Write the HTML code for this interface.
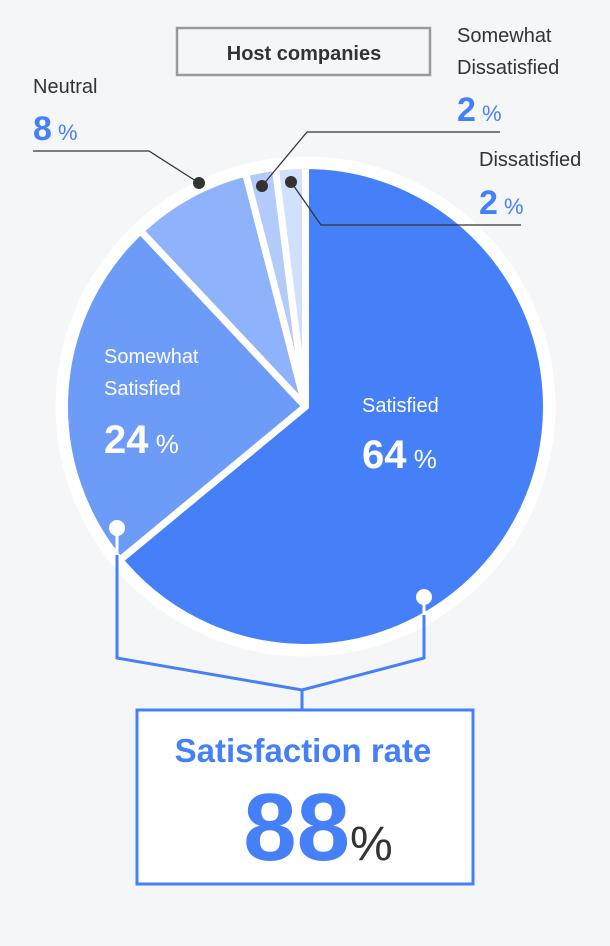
<!DOCTYPE html>
<html><head><meta charset="utf-8">
<style>
body{margin:0;background:#f4f6f8;}
svg{display:block;font-family:"Liberation Sans",sans-serif;}
</style></head>
<body>
<svg id="chart" width="610" height="946" viewBox="0 0 610 946">
<rect x="0" y="0" width="610" height="946" fill="#f4f6f8"/>
<rect x="177" y="28" width="253" height="47" fill="#f4f6f8" stroke="#9a9a9a" stroke-width="2.5"/>
<text x="304" y="60" text-anchor="middle" font-size="20" font-weight="bold" fill="#333">Host companies</text>
<circle cx="305.5" cy="406.5" r="250" fill="#ffffff"/>
<g id="slices"></g>
<g id="leaders" fill="none" stroke="#333" stroke-width="1.3">
<polyline points="33,151 149,151 199,183"/>
<polyline points="500,132 307,132 262,186"/>
<polyline points="291,182 321,225 521,225"/>
</g>
<circle cx="199" cy="183" r="6" fill="#333"/>
<circle cx="262" cy="186" r="6" fill="#333"/>
<circle cx="291" cy="182" r="6" fill="#333"/>
<g font-size="20" fill="#333">
<text x="33" y="93">Neutral</text>
<text x="33" y="140"><tspan font-size="34" font-weight="bold" fill="#4680f8">8</tspan><tspan font-size="22" fill="#4680f8"> %</tspan></text>
<text x="457" y="42">Somewhat</text>
<text x="457" y="74">Dissatisfied</text>
<text x="457" y="121"><tspan font-size="34" font-weight="bold" fill="#4680f8">2</tspan><tspan font-size="22" fill="#4680f8"> %</tspan></text>
<text x="479" y="166">Dissatisfied</text>
<text x="479" y="214"><tspan font-size="34" font-weight="bold" fill="#4680f8">2</tspan><tspan font-size="22" fill="#4680f8"> %</tspan></text>
</g>
<g fill="#fff">
<text x="104" y="363" font-size="20">Somewhat</text>
<text x="104" y="395" font-size="20">Satisfied</text>
<text x="104" y="453"><tspan font-size="40" font-weight="bold">24</tspan><tspan font-size="26"> %</tspan></text>
<text x="362" y="412" font-size="20">Satisfied</text>
<text x="362" y="468"><tspan font-size="40" font-weight="bold">64</tspan><tspan font-size="26"> %</tspan></text>
</g>
<g fill="none" stroke="#4680f8" stroke-width="3">
<polyline points="117,555 117,658 302,690 424,658 424,610"/>
<line x1="302" y1="690" x2="302" y2="710"/>
</g>
<line x1="117" y1="528" x2="117" y2="555" stroke="#fff" stroke-width="3"/>
<line x1="424" y1="597" x2="424" y2="615" stroke="#fff" stroke-width="3"/>
<circle cx="117" cy="528" r="8" fill="#fff"/>
<circle cx="424" cy="597" r="8" fill="#fff"/>
<rect x="137" y="710" width="336" height="174" fill="#fff" stroke="#4680f8" stroke-width="3"/>
<text x="303" y="762" text-anchor="middle" font-size="33" font-weight="bold" fill="#4680f8">Satisfaction rate</text>
<text x="318" y="860" text-anchor="middle"><tspan font-size="96" font-weight="bold" fill="#4680f8">88</tspan><tspan font-size="48" fill="#333">%</tspan></text>
</svg>
<script>
const categories = ["Satisfied","Somewhat Satisfied","Neutral","Somewhat Dissatisfied","Dissatisfied"];
const values = [64,24,8,2,2];
const colors = ["#4680f8","#6c9bf8","#8fb3fa","#b3cbfb","#d0e0fd"];
const cx=305.5, cy=406.5, r=241;
const g=document.getElementById('slices');
const total=values.reduce((a,b)=>a+b,0);
function pt(f){const a=f*2*Math.PI-Math.PI/2;return [cx+r*Math.cos(a),cy+r*Math.sin(a)];}
let acc=0;
values.forEach((v,i)=>{
  const s=pt(acc/total), e=pt((acc+v)/total);
  const large=v/total>0.5?1:0;
  const p=document.createElementNS('http://www.w3.org/2000/svg','path');
  p.setAttribute('d',`M${cx},${cy} L${s[0]},${s[1]} A${r},${r} 0 ${large} 1 ${e[0]},${e[1]} Z`);
  p.setAttribute('fill',colors[i]);
  p.setAttribute('stroke','#fff');
  p.setAttribute('stroke-width','7');
  p.setAttribute('stroke-linejoin','round');
  
  
  g.appendChild(p);
  acc+=v;
});
</script>
</body></html>
